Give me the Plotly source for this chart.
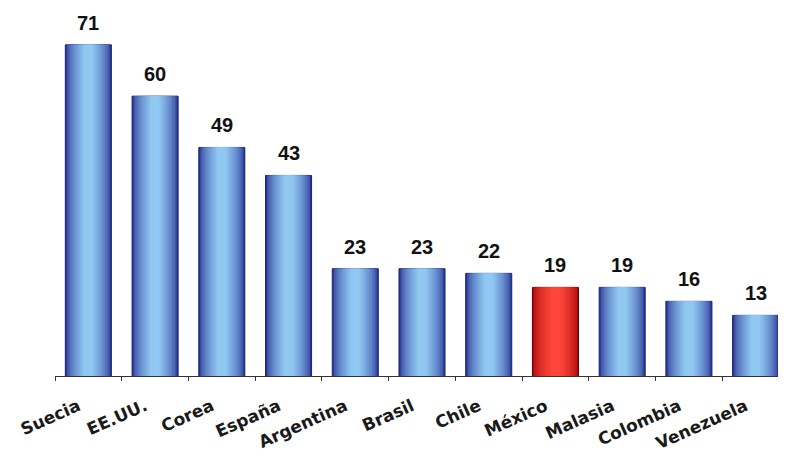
import plotly.graph_objects as go

paises = ["Suecia", "EE.UU.", "Corea", "España", "Argentina", "Brasil", "Chile",
          "México", "Malasia", "Colombia", "Venezuela"]
valores = [71, 60, 49, 43, 23, 23, 22, 19, 19, 16, 13]
destacado = "México"

def lerp(c1, c2, t):
    return "#%02x%02x%02x" % tuple(int(round(a + (b - a) * t)) for a, b in zip(c1, c2))

blue_dark, blue_light = (40, 52, 148), (145, 200, 242)
red_dark, red_light = (170, 10, 10), (255, 70, 60)

fig = go.Figure()
N = 14
full_w = 0.69
for i in range(N):
    t = i / (N - 1)
    w = full_w * (1 - 0.88 * t)
    tt = min(1.0, (t ** 0.6) * 1.05)
    cols = [lerp(red_dark, red_light, tt) if p == destacado else lerp(blue_dark, blue_light, tt)
            for p in paises]
    fig.add_trace(go.Bar(
        x=paises, y=valores, width=w,
        marker=dict(color=cols,
                    line=dict(width=1 if i == 0 else 0,
                              color=["#600" if p == destacado else "#1c2670" for p in paises])),
        hoverinfo="skip", showlegend=False))

for p, v in zip(paises, valores):
    fig.add_annotation(x=p, y=v, text=str(v), showarrow=False,
                       yanchor="bottom", yshift=9,
                       font=dict(family="Liberation Sans", size=20, color="#111", weight="bold"))

fig.update_layout(
    width=786, height=462,
    barmode="overlay",
    paper_bgcolor="white", plot_bgcolor="white",
    margin=dict(l=47, r=5, t=0, b=94),
    font=dict(family="Liberation Sans", color="#111"),
)
fig.update_xaxes(
    type="category", range=[-0.5, 10.5],
    showline=True, linecolor="#333", linewidth=1,
    ticks="outside", tickson="boundaries", ticklen=4, tickcolor="#333",
    tickangle=-24, showgrid=False, automargin=False,
    ticklabelstandoff=13, ticklabelshift=-10,
    tickfont=dict(family="DejaVu Sans", size=17, color="#1a1a1a", weight="bold"),
)
fig.update_yaxes(range=[0, 78.9], visible=False, showgrid=False)

fig.write_html("out.html")
